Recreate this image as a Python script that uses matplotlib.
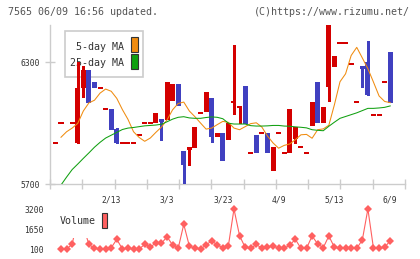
import numpy as np
import matplotlib
matplotlib.use("Agg")
import matplotlib.pyplot as plt
from matplotlib.patches import Rectangle

nan = np.nan

# ---------------- data (trading-day index -1 .. 59) ----------------
day_index = list(range(-1, 60))

opens = [5900, 6000, nan, 6000, 5900, 6173, 6261, 6203, 6171, 6067,
         6067, 5970, 5900, 5900, 5900, 5941, 6000, 6000, 6000, 6020,
         6015, 6110, 6192, 5862, 5867, 5879, 6048, 6056, 6124, 5930,
         5952, 5916, 6103, 6077, 6182, 5851, 5941, 5949, 5949, 5765,
         5949, 5851, 5851, 5920, 5880, 5851, 5985, 6202, 5998, 6179,
         6277, 6392, 6392, 6290, 6103, 6280, 6300, 6038, 6038, 6202,
         6349]
closes = [5900, 6000, nan, 6000, 6173, 6261, 6100, 6170, 6171, 6067,
          5966, 5900, 5900, 5900, 5900, 5941, 6000, 6000, 6051, 6006,
          6202, 6192, 6084, 5793, 5883, 5982, 6048, 6154, 5930, 5952,
          5815, 5998, 6103, 6077, 5995, 5851, 5851, 5949, 5851, 5880,
          5949, 5851, 6067, 5979, 5880, 5851, 6103, 5998, 6077, 6490,
          6330, 6392, 6392, 6290, 6103, 6266, 6138, 6038, 6038, 6202,
          6100]
highs = [5900, 6000, nan, 6000, 6300, 6280, 6261, 6203, 6171, 6067,
         6067, 5975, 5900, 5900, 5900, 5941, 6000, 6000, 6051, 6020,
         6202, 6192, 6192, 5862, 5883, 5982, 6048, 6154, 6124, 5952,
         5952, 5998, 6384, 6077, 6182, 5851, 5941, 5949, 5949, 5880,
         5949, 5851, 6067, 5979, 5880, 5851, 6103, 6202, 6077, 6490,
         6330, 6392, 6392, 6290, 6103, 6280, 6403, 6038, 6038, 6202,
         6349]
lows = [5900, 6000, nan, 6000, 5900, 6129, 6100, 6170, 6171, 6067,
        5966, 5900, 5900, 5900, 5900, 5941, 6000, 6000, 6000, 5916,
        6015, 6110, 6084, 5690, 5793, 5879, 6048, 6056, 5908, 5930,
        5815, 5916, 6044, 5998, 5995, 5851, 5851, 5949, 5851, 5765,
        5949, 5851, 5851, 5900, 5880, 5851, 5985, 5998, 5998, 6110,
        6277, 6392, 6392, 6290, 6103, 6179, 6138, 6038, 6038, 6202,
        6100]
volume = [nan, 100, 100, 460, 2500, 1850, 460, 150, 100, 100,
          200, 850, 100, 150, 100, 100, 460, 280, 540, 540,
          1050, 410, 150, 2010, 330, 150, 100, 410, 740, 410,
          200, 360, 3200, 1130, 230, 150, 460, 150, 230, 360,
          150, 150, 410, 850, 150, 150, 1110, 490, 200, 1110,
          230, 150, 150, 150, 150, 800, 3200, 150, 150, 230,
          740]
ma5 = [nan, 5930, 5957, 5975, 5998, 6059, 6099, 6112, 6147, 6167,
       6156, 6121, 6066, 6018, 5957, 5929, 5910, 5926, 5954, 5980,
       6015, 6065, 6096, 6103, 6059, 6031, 6000, 5970, 5975, 5992,
       6008, 6003, 5975, 5967, 5982, 5997, 6001, 5980, 5936, 5902,
       5876, 5890, 5897, 5918, 5942, 5944, 5925, 5967, 5971, 5989,
       6090, 6203, 6242, 6332, 6372, 6320, 6267, 6201, 6133, 6106,
       6100]
ma25 = [nan, 5695, 5734, 5771, 5798, 5826, 5853, 5881, 5905, 5926,
        5940, 5954, 5968, 5975, 5978, 5982, 5986, 5988, 5990, 5994,
        6006, 6019, 6028, 6031, 6025, 6023, 6023, 6027, 6030, 6028,
        6021, 5999, 5995, 5995, 5995, 5987, 5985, 5985, 5986, 5988,
        5988, 5985, 5984, 5981, 5979, 5976, 5967, 5964, 5962, 5984,
        6004, 6023, 6032, 6041, 6050, 6061, 6072, 6072, 6074, 6077,
        6084]
date_labels = ["2/13", "3/3", "3/23", "4/9", "5/13", "6/9"]
date_label_index = [9, 19, 29, 39, 49, 59]
price_ticks = [5700, 6300]
volume_ticks = [100, 1650, 3200]

# ---------------- styling ----------------
W, H = 420, 259
UP = "#d40000"
DOWN = "#4040c0"
ORANGE = "#f08c10"
GREEN = "#10a010"
VOLC = "#ff6060"
GRID = "#cccccc"
TXT = "#333333"
MONO = "DejaVu Sans Mono"

def fx(px):
    return px / W

def fy(py):
    return 1 - py / H

fig = plt.figure(figsize=(4.2, 2.59), dpi=100)
fig.patch.set_facecolor("white")

ax = fig.add_axes([fx(50), fy(184), fx(405) - fx(50), fy(25) - fy(184)])
axv = fig.add_axes([fx(50), fy(252), fx(405) - fx(50), fy(205) - fy(252)])

# candles
bw = 0.9
for i, o, c, h, l in zip(day_index, opens, closes, highs, lows):
    if np.isnan(o):
        continue
    col = UP if c >= o else DOWN
    if h > max(o, c) or l < min(o, c):
        ax.vlines(i, l, h, color=col, lw=1.0, zorder=3, antialiased=False)
    if o == c:
        ax.hlines(c, i - bw / 2, i + bw / 2, color=col, lw=1.1, zorder=4,
                  antialiased=False)
    else:
        ax.bar(i, abs(c - o), bottom=min(o, c), width=bw, color=col,
               zorder=4, linewidth=0, antialiased=False)

ax.plot(day_index, ma5, color=ORANGE, lw=0.75, zorder=5)
ax.plot(day_index, ma25, color=GREEN, lw=0.75, zorder=5)

ax.set_xlim((50 - 61) / 5.58, (405 - 61) / 5.58)
ax.set_ylim(5700, 6482)

for s in ["top", "right"]:
    ax.spines[s].set_visible(False)
for s in ["left", "bottom"]:
    ax.spines[s].set_color(GRID)
    ax.spines[s].set_linewidth(1.0)

ax.set_yticks(price_ticks)
ax.set_yticklabels([str(v) for v in price_ticks])
ax.tick_params(axis="y", direction="inout", length=6.5, width=1.0,
               color=GRID, labelsize=5.8, labelcolor=TXT, pad=4.3)
for lab in ax.get_yticklabels():
    lab.set_family(MONO)

x0, x1 = ax.get_xlim()
ax.set_xticks(np.linspace(x0, x1, 12), minor=True)
ax.set_xticks(date_label_index)
ax.set_xticklabels(date_labels)
ax.tick_params(axis="x", which="minor", direction="inout", length=6.5,
               width=1.0, color=GRID)
ax.tick_params(axis="x", which="major", length=0, labelsize=5.8,
               labelcolor=TXT, pad=8)
for lab in ax.get_xticklabels():
    lab.set_family(MONO)

# main legend (drawn beneath candles)
ax.add_patch(Rectangle((fx(65), fy(77.3)), fx(143.3) - fx(65), fy(30.7) - fy(77.3),
                       transform=fig.transFigure, facecolor="white",
                       edgecolor=GRID, lw=1.2, zorder=1, clip_on=False))
ax.text(fx(124.3), fy(46.7), "5-day MA", transform=fig.transFigure,
        ha="right", va="center", fontsize=7.2, family=MONO, color=TXT, zorder=2)
ax.text(fx(124.3), fy(63.3), "25-day MA", transform=fig.transFigure,
        ha="right", va="center", fontsize=7.2, family=MONO, color=TXT, zorder=2)
ax.add_patch(Rectangle((fx(131), fy(52.3)), fx(137.7) - fx(131), fy(37.3) - fy(52.3),
                       transform=fig.transFigure, facecolor=ORANGE,
                       edgecolor="#333333", lw=0.8, zorder=2, clip_on=False))
ax.add_patch(Rectangle((fx(131), fy(69)), fx(137.7) - fx(131), fy(54) - fy(69),
                       transform=fig.transFigure, facecolor=GREEN,
                       edgecolor="#333333", lw=0.8, zorder=2, clip_on=False))

# volume pane
axv.plot(day_index, volume, color=VOLC, lw=0.8, marker="D", markersize=3.6,
         markeredgewidth=0, zorder=2)
axv.set_xlim(x0, x1)
axv.set_ylim(-132, 3510)
for s in axv.spines.values():
    s.set_visible(False)
axv.set_xticks([])
axv.set_yticks(volume_ticks)
axv.set_yticklabels([str(v) for v in volume_ticks])
axv.tick_params(axis="y", length=0, labelsize=5.8, labelcolor=TXT, pad=4.3)
for lab in axv.get_yticklabels():
    lab.set_family(MONO)

axv.add_patch(Rectangle((fx(55), fy(237.5)), fx(112) - fx(55), fy(205) - fy(237.5),
                        transform=fig.transFigure, facecolor="white",
                        edgecolor="none", zorder=3, clip_on=False))
axv.text(fx(59.3), fy(221.3), "Volume", transform=fig.transFigure,
         ha="left", va="center", fontsize=7.2, family=MONO, color=TXT, zorder=4)
axv.add_patch(Rectangle((fx(101.7), fy(228.3)), fx(107.3) - fx(101.7), fy(213) - fy(228.3),
                        transform=fig.transFigure, facecolor=VOLC,
                        edgecolor="#333333", lw=0.8, zorder=4, clip_on=False))

fig.text(fx(8), fy(12.3), "7565 06/09 16:56 updated.", ha="left", va="center",
         fontsize=7.2, family=MONO, color="#555555")
fig.text(fx(410), fy(12.3), "(C)https://www.rizumu.net/", ha="right", va="center",
         fontsize=7.2, family=MONO, color="#555555")

fig.savefig("out.png", dpi=100)
